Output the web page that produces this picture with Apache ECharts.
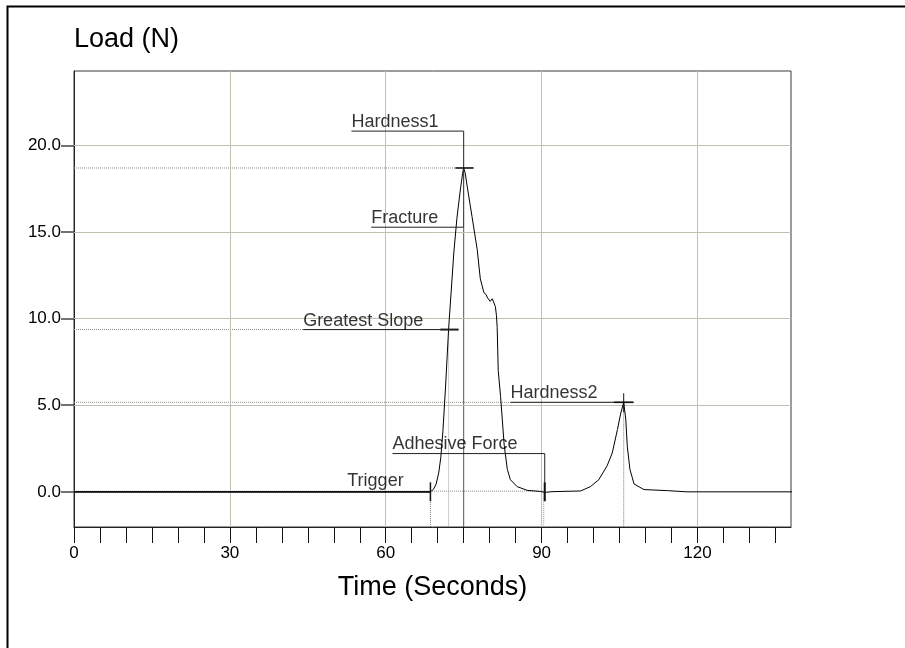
<!DOCTYPE html>
<html><head><meta charset="utf-8">
<script src="https://cdn.jsdelivr.net/npm/echarts@6/dist/echarts.min.js"></script>
<style>html,body{margin:0;padding:0;background:#fff}#c{width:905px;height:648px}</style>
</head><body><div id="c"></div>
<script>
// ---- curve (Time in s, Load in N) ----
const timeValues = [0, 68.6, 69.2, 69.7, 70.2, 70.6, 71.0, 71.5, 72.1, 72.6, 73.1, 73.7, 74.3, 74.8, 75.0, 75.3, 75.7, 76.6, 77.6, 78.2, 78.9, 79.3, 79.6, 80.1, 80.5, 80.8, 81.1, 81.3, 81.45, 81.65, 82.1, 82.8, 83.4, 84.0, 85.3, 87.2, 89.8, 90.6, 92.0, 97.5, 99.4, 101.0, 102.6, 103.6, 104.6, 105.2, 105.8, 106.2, 106.5, 107.0, 107.8, 109.7, 114.2, 118.0, 138.6];
const loadValues = [0, 0, 0.15, 0.45, 1.1, 2.0, 3.5, 6.0, 9.4, 11.6, 13.8, 15.8, 17.3, 18.4, 18.7, 18.4, 17.6, 15.9, 14.0, 12.3, 11.5, 11.4, 11.2, 11.0, 11.15, 11.1, 10.7, 10.2, 9.5, 7.0, 5.5, 2.7, 1.3, 0.7, 0.3, 0.09, 0.02, -0.03, 0.01, 0.05, 0.3, 0.7, 1.5, 2.25, 3.6, 4.5, 5.17, 4.2, 2.6, 1.3, 0.45, 0.13, 0.07, 0.0, 0];

// ---- axes ----
const xTickValues = [0, 5, 10, 15, 20, 25, 30, 35, 40, 45, 50, 55, 60, 65, 70, 75, 80, 85, 90, 95, 100, 105, 110, 115, 120, 125, 130, 135];
const xLabelValues = [0, 30, 60, 90, 120];
const xGridValues = [30, 60, 90, 120];
const yTickValues = [0, 5, 10, 15, 20];
const yGridValues = [5, 10, 15, 20];

// ---- analysis results ----
const labelTexts = ['Hardness1', 'Fracture', 'Greatest Slope', 'Hardness2', 'Adhesive Force', 'Trigger'];
const labelTimes = [53.4, 57.2, 44.1, 84.0, 61.3, 52.6];
const labelLoads = [20.83, 15.28, 9.37, 5.17, 2.21, 0];
const labelShift = [0, 0, 0, 0, -1, -2];

const hardness1Callout = [[53.4, 20.83], [75.0, 20.83], [75.0, 15.28]];
const fractureCallout = [[57.2, 15.28], [75.0, 15.28]];
const slopeCallout = [[44.1, 9.37], [74.0, 9.37]];
const hardness2Callout = [[84.0, 5.17], [107.65, 5.17]];
const adhesiveCallout = [[61.3, 2.21], [90.6, 2.21], [90.6, -0.54]];
const triggerBase = [[0, 0], [68.6, 0]];

const hardness1Marker = [[73.4, 18.7], [76.9, 18.7]];
const slopeMarker = [[70.5, 9.37], [74.0, 9.37]];
const hardness2Marker = [[103.9, 5.17], [107.7, 5.17]];
const hardness2Tick = [[105.8, 5.69], [105.8, 4.6]];
const triggerTick = [[68.6, 0.55], [68.6, -0.54]];
const adhesiveTick = [[90.6, 0.54], [90.6, -0.54]];

const dottedLevelH1 = [[0, 18.7], [73.4, 18.7]];
const dottedLevelSlope = [[0, 9.37], [70.5, 9.37]];
const dottedLevelH2 = [[0, 5.17], [103.9, 5.17]];
const dottedLevelAdh = [[0, 0.04], [90.6, 0.04]];
const timeLineH1 = [[75.0, 15.28], [75.0, -2.03]];
const dottedTimeSlope = [[72.1, 9.37], [72.1, -2.03]];
const dottedTimeH2 = [[105.8, 5.17], [105.8, -2.03]];
const dottedTimeTrig = [[68.6, 0], [68.6, -2.03]];
const dottedTimeAdh = [[90.4, 0], [90.4, -2.03]];

const FONT = '"Liberation Sans", Arial, sans-serif';
const chart = echarts.init(document.getElementById('c'), null, {renderer: 'canvas'});

function seg(pts, color, width, type, z) {
  return {type: 'line', data: pts, symbol: 'none', silent: true, clip: false, z: z,
    lineStyle: {color: color, width: width, type: type}, animation: false};
}

const curve = timeValues.map((t, i) => [t, loadValues[i]]);
const labelData = labelTexts.map((s, i) => ({name: s, value: [labelTimes[i], labelLoads[i]],
  label: {offset: [0, labelShift[i]]}}));

const series = [
  {type: 'line', data: [], silent: true, z: 1,
    markLine: {silent: true, symbol: 'none', animation: false, label: {show: false},
      lineStyle: {color: '#c3bfb2', width: 1, type: 'solid'},
      data: xGridValues.map(v => ({xAxis: v})).concat(yGridValues.map(v => ({yAxis: v})))}},
  seg(dottedLevelH1, '#8a8a8a', 1, [1, 1], 2),
  seg(dottedLevelSlope, '#8a8a8a', 1, [1, 1], 2),
  seg(dottedLevelH2, '#8a8a8a', 1, [1, 1], 2),
  seg(dottedLevelAdh, '#8a8a8a', 1, [1, 1], 2),
  seg(timeLineH1, '#555', 1, 'solid', 2),
  seg(dottedTimeSlope, '#999', 1, [1, 1], 2),
  seg(dottedTimeH2, '#777', 1, [1, 1], 2),
  seg(dottedTimeTrig, '#777', 1, [1, 1], 2),
  seg(dottedTimeAdh, '#999', 1, [1, 1], 2),
  {type: 'line', data: curve, symbol: 'none', silent: true, clip: false, z: 5, animation: false,
    lineStyle: {color: '#000', width: 1}},
  seg(triggerBase, '#111', 1.6, 'solid', 6),
  seg(hardness1Callout, '#222', 1, 'solid', 6),
  seg(fractureCallout, '#222', 1, 'solid', 6),
  seg(slopeCallout, '#222', 1, 'solid', 6),
  seg(hardness2Callout, '#222', 1, 'solid', 6),
  seg(adhesiveCallout, '#222', 1, 'solid', 6),
  seg(hardness1Marker, '#111', 1.6, 'solid', 7),
  seg(slopeMarker, '#222', 2, 'solid', 7),
  seg(hardness2Marker, '#111', 1.6, 'solid', 7),
  seg(hardness2Tick, '#111', 1, 'solid', 7),
  seg(triggerTick, '#111', 1.5, 'solid', 7),
  seg(adhesiveTick, '#111', 2, 'solid', 7),
  {type: 'scatter', data: labelData, symbolSize: 0, silent: true, z: 8, animation: false,
    label: {show: true, formatter: '{b}', position: [0, 0], align: 'left', verticalAlign: 'bottom',
      fontFamily: FONT, fontSize: 18, color: '#000'}}
];

chart.setOption({
  backgroundColor: '#fff',
  animation: false,
  grid: {left: 74, top: 71, width: 717, height: 456, show: true, borderColor: '#3a3a3a', borderWidth: 1},
  xAxis: {
    type: 'value', min: 0, max: 138,
    name: 'Time (Seconds)', nameLocation: 'middle', nameGap: 47,
    nameTextStyle: {fontFamily: FONT, fontSize: 27, color: '#000'},
    axisLine: {show: true, onZero: false, lineStyle: {color: '#222', width: 1}},
    axisTick: {show: true, inside: false, length: 16, customValues: xTickValues, lineStyle: {color: '#111', width: 1}},
    axisLabel: {show: true, customValues: xLabelValues, margin: 18, fontFamily: FONT, fontSize: 17, color: '#000'},
    splitLine: {show: false}
  },
  yAxis: {
    type: 'value', min: -2.03, max: 24.3,
    axisLine: {show: true, onZero: false, lineStyle: {color: '#222', width: 1}},
    axisTick: {show: true, inside: false, length: 13, customValues: yTickValues, lineStyle: {color: '#444', width: 1.5}},
    axisLabel: {show: true, customValues: yTickValues, margin: 13, fontFamily: FONT, fontSize: 17, color: '#000',
      formatter: v => Number(v).toFixed(1)},
    splitLine: {show: false}
  },
  graphic: [
    {type: 'rect', silent: true, shape: {x: 7.5, y: 6.5, width: 1000, height: 1000},
      style: {fill: 'none', stroke: '#000', lineWidth: 2}},
    {type: 'text', silent: true, left: 74, top: 26,
      style: {text: 'Load (N)', fontFamily: FONT, fontSize: 27, fill: '#000'}}
  ],
  series: series
});
</script></body></html>
